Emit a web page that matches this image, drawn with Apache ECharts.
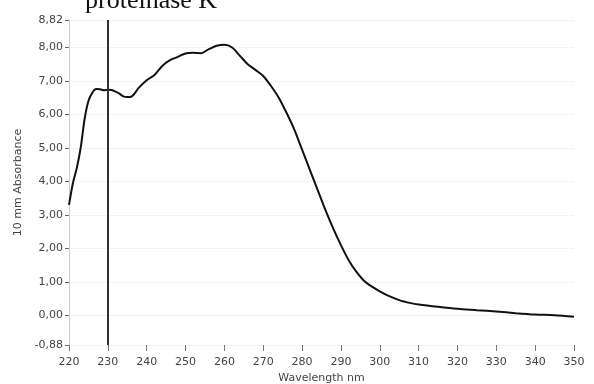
<!DOCTYPE html>
<html>
<head>
<meta charset="utf-8">
<script src="https://cdn.jsdelivr.net/npm/echarts@6/dist/echarts.min.js"></script>
<style>
  html, body { margin: 0; padding: 0; background: #fff; }
  #chart { width: 594px; height: 384px; }
</style>
</head>
<body>
<div id="chart"></div>
<script>
// wavelength (nm) and absorbance
const wavelength = [220, 221, 222, 223, 224, 225, 226, 227, 228, 229, 230, 231, 232, 233, 234, 235, 236, 238, 240, 242, 244, 246, 248, 250, 252, 254, 256, 258, 260, 262, 264, 266, 268, 270, 272, 274, 276, 278, 280, 282, 284, 286, 288, 290, 292, 294, 296, 298, 300, 302, 305, 308, 310, 315, 320, 325, 330, 335, 340, 345, 350];
const absorbance = [3.3, 3.95, 4.4, 5.0, 5.85, 6.4, 6.65, 6.76, 6.75, 6.72, 6.74, 6.73, 6.68, 6.62, 6.54, 6.52, 6.53, 6.8, 7.02, 7.18, 7.45, 7.62, 7.72, 7.82, 7.84, 7.83, 7.95, 8.05, 8.08, 8.0, 7.75, 7.5, 7.33, 7.15, 6.85, 6.5, 6.05, 5.55, 4.95, 4.35, 3.75, 3.15, 2.6, 2.1, 1.65, 1.3, 1.03, 0.86, 0.72, 0.6, 0.46, 0.37, 0.33, 0.26, 0.2, 0.16, 0.12, 0.07, 0.03, 0.01, -0.04];
const yTicks = [-0.88, 0, 1, 2, 3, 4, 5, 6, 7, 8, 8.82];
const markerWavelength = 230;

let myChart = echarts.init(document.getElementById('chart'));
myChart.setOption({
    animation: false,
    title: {
        text: 'proteinase K',
        left: 80,
        top: -17,
        textStyle: {
            fontFamily: 'Liberation Serif',
            fontWeight: 'normal',
            fontSize: 26,
            color: '#111'
        }
    },
    grid: {
        left: 69,
        right: 20,
        top: 20,
        bottom: 39,
        outerBoundsMode: 'none'
    },
    xAxis: {
        type: 'value',
        min: 220,
        max: 350,
        interval: 10,
        name: 'Wavelength nm',
        nameLocation: 'middle',
        nameGap: 26,
        nameTextStyle: { fontFamily: 'DejaVu Sans', fontSize: 11, color: '#444' },
        axisLine: { show: false, onZero: false },
        axisTick: { show: true, length: 6, lineStyle: { color: '#777' } },
        axisLabel: { fontFamily: 'DejaVu Sans', fontSize: 11, color: '#444', margin: 12 },
        splitLine: { show: false }
    },
    yAxis: {
        type: 'value',
        min: -0.88,
        max: 8.82,
        name: '10 mm Absorbance',
        nameLocation: 'middle',
        nameGap: 45,
        nameTextStyle: { fontFamily: 'DejaVu Sans', fontSize: 11, color: '#444' },
        axisLine: { show: true, lineStyle: { color: '#ccc' } },
        axisTick: { show: true, length: 4, customValues: yTicks, lineStyle: { color: '#666' } },
        axisLabel: {
            customValues: yTicks,
            fontFamily: 'DejaVu Sans',
            fontSize: 11,
            color: '#444',
            margin: 6,
            formatter: function (v) { return v.toFixed(2).replace('.', ','); }
        },
        splitLine: { show: true, lineStyle: { color: '#e6e6e6', type: 'dotted' } }
    },
    series: [
        {
            type: 'line',
            data: wavelength.map((w, i) => [w, absorbance[i]]),
            showSymbol: false,
            smooth: 0.3,
            lineStyle: { color: '#111', width: 2 },
            markLine: {
                silent: true,
                symbol: 'none',
                label: { show: false },
                lineStyle: { color: '#333', width: 2, type: 'solid' },
                data: [{ xAxis: markerWavelength }]
            }
        }
    ]
});
</script>
</body>
</html>
